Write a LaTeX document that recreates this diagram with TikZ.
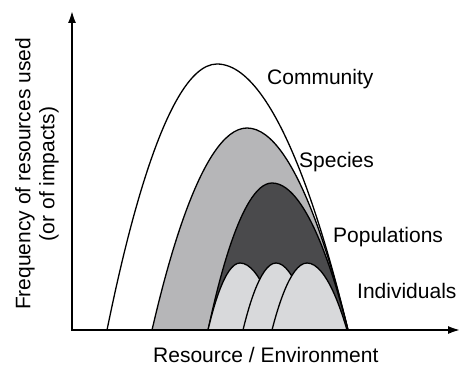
\documentclass[tikz,border=0pt]{standalone}
\usepackage{fontspec}
\setmainfont{Liberation Sans}
\usetikzlibrary{arrows.meta}

\definecolor{speciesgray}{RGB}{182,182,184}
\definecolor{popdark}{RGB}{74,74,76}
\definecolor{indlight}{RGB}{216,217,219}

\begin{document}
\begin{tikzpicture}[x=1pt,y=-1pt,
  hump/.style={draw,fill=#1,line width=1.3pt,line join=round},
  axis/.style={line width=2.8pt,line join=miter,{Latex[length=13pt,width=8pt]}-{Latex[length=13pt,width=8pt]}},
  lbl/.style={anchor=base west,inner sep=0pt,font=\fontsize{21}{24}\selectfont}]
\useasboundingbox (0,0) rectangle (462,366);
% niches, widest first
\draw[hump=white] (107,330) parabola bend (217,64) (348,330);
\draw[hump=speciesgray] (152,330) parabola bend (247,128) (348,330);
\draw[hump=popdark] (208,330) parabola bend (272,183) (348,330);
\foreach \a/\p/\b in {208/240/280, 243/276/312, 272/307/347} {
   \draw[hump=indlight] (\a,330) parabola bend (\p,263) (\b,330);
}
% axes
\coordinate (origin) at (72,330);
\coordinate (ytip) at (72,10);
\coordinate (xtip) at (461,330);
\draw[axis] (ytip) -- (origin) -- (xtip);
% labels
\node[lbl] (community) at (267,85) {Community};
\node[lbl] (species) at (299,167) {Species};
\node[lbl] (populations) at (333,242) {Populations};
\node[lbl] (individuals) at (357,298) {Individuals};
\node[lbl] (xlabel) at (153,362) {Resource / Environment};
\node[inner sep=0pt,rotate=90,align=center,font=\fontsize{21}{24}\selectfont] (ylabel) at (37,174)
   {Frequency of resources used\\(or of impacts)};
\end{tikzpicture}
\end{document}
